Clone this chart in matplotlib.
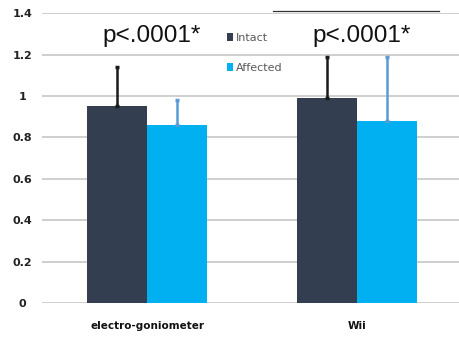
import matplotlib
matplotlib.use("Agg")
import matplotlib.pyplot as plt
import numpy as np

categories = ["electro-goniometer", "Wii"]
series = ["Intact", "Affected"]
intact = [0.95, 0.99]
affected = [0.86, 0.88]
intact_err = [0.19, 0.20]
affected_err = [0.12, 0.31]
p_labels = ["p<.0001*", "p<.0001*"]
yticks = [0, 0.2, 0.4, 0.6, 0.8, 1.0, 1.2, 1.4]
ytick_labels = ["0", "0.2", "0.4", "0.6", "0.8", "1", "1.2", "1.4"]

dark = "#333F50"
cyan = "#00B0F0"

fig = plt.figure(figsize=(4.6, 3.37), dpi=100)
ax = fig.add_axes([0.0913, 0.1009, 0.9087, 0.8602])

x = np.arange(len(categories))
w = 0.2857
ax.bar(x - w / 2, intact, w, color=dark, label=series[0], zorder=3)
ax.bar(x + w / 2, affected, w, color=cyan, label=series[1], zorder=3)
ax.errorbar(x - w / 2, intact, yerr=[[0] * 2, intact_err], fmt="none",
            ecolor="#1a1a1a", elinewidth=1.8, capsize=1.5, capthick=2.5, zorder=4)
ax.errorbar(x + w / 2, affected, yerr=[[0] * 2, affected_err], fmt="none",
            ecolor="#5B9BD5", elinewidth=1.8, capsize=1.5, capthick=2.5, zorder=4)

for xi, lab in zip(x, p_labels):
    ax.text(xi + 0.02, 1.29, lab, ha="center", va="center",
            fontsize=17.5, family="Liberation Sans", color="#111111")

ax.set_ylim(0, 1.4)
ax.set_xlim(-0.5, 1.49)
ax.set_yticks(yticks)
ax.set_yticklabels(ytick_labels, fontsize=8, fontweight="bold", color="#222222")
ax.set_xticks(x)
ax.set_xticklabels(categories, fontsize=7.5, fontweight="bold", color="#111111")
ax.tick_params(axis="x", length=0, pad=13)
ax.tick_params(axis="y", length=0, pad=14)
for lab in ax.get_yticklabels():
    lab.set_horizontalalignment("center")
ax.yaxis.grid(True, color="#CFCFCF", linewidth=1.4, zorder=0)
ax.set_axisbelow(True)
for s in ax.spines.values():
    s.set_visible(False)

ax.plot([0.6, 1.39], [1.408, 1.408], color="#333333", linewidth=0.9,
        clip_on=False, zorder=5)

ax.legend(loc="upper left", bbox_to_anchor=(0.418, 0.965), frameon=False,
          handlelength=0.55, handleheight=0.7, handletextpad=0.3,
          labelspacing=1.8, fontsize=8, labelcolor="#595959")

fig.savefig("out.png", dpi=100)
